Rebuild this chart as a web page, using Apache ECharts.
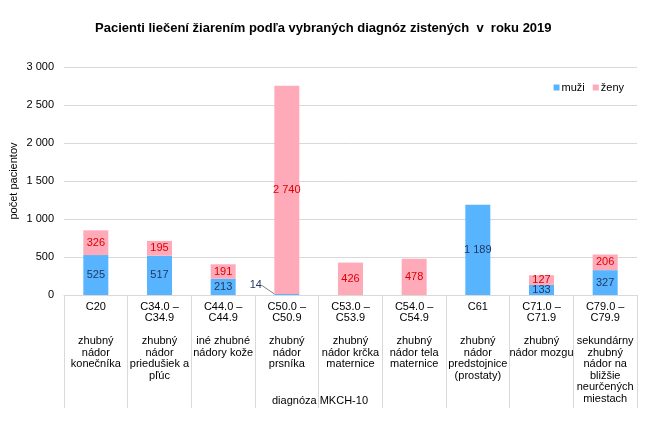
<!DOCTYPE html>
<html>
<head>
<meta charset="utf-8">
<script src="https://cdn.jsdelivr.net/npm/echarts@6/dist/echarts.min.js"></script>
<style>html,body{margin:0;padding:0;background:#fff}#c{width:650px;height:439px}</style>
</head>
<body>
<div id="c"></div>
<script>
const categories = [
  "C20\n\n\nzhubný\nnádor\nkonečníka",
  "C34.0 –\nC34.9\n\nzhubný\nnádor\npriedušiek a\npľúc",
  "C44.0 –\nC44.9\n\niné zhubné\nnádory kože",
  "C50.0 –\nC50.9\n\nzhubný\nnádor\nprsníka",
  "C53.0 –\nC53.9\n\nzhubný\nnádor krčka\nmaternice",
  "C54.0 –\nC54.9\n\nzhubný\nnádor tela\nmaternice",
  "C61\n\n\nzhubný\nnádor\npredstojnice\n(prostaty)",
  "C71.0 –\nC71.9\n\nzhubný\nnádor mozgu",
  "C79.0 –\nC79.9\n\nsekundárny\nzhubný\nnádor na\nbližšie\nneurčených\nmiestach"
];
const muzi = [525, 517, 213, 14, 0, 0, 1189, 133, 327];
const zeny = [326, 195, 191, 2740, 426, 478, 0, 127, 206];
const seriesNames = ["muži", "ženy"];
const yTicks = { min: 0, max: 3000, interval: 500 };

const FONT = "Liberation Sans, Arial, sans-serif";
function fmt(v){ return String(v).replace(/\B(?=(\d{3})+(?!\d))/g, " "); }

const chart = echarts.init(document.getElementById("c"), null, {renderer: "canvas"});
chart.setOption({
  animation: false,
  textStyle: { fontFamily: FONT },
  title: {
    text: "Pacienti liečení žiarením podľa vybraných diagnóz zistených  v  roku 2019",
    left: 90, top: 17,
    textStyle: { fontFamily: FONT, fontSize: 13, fontWeight: "bold", color: "#000" }
  },
  legend: {
    data: seriesNames, right: 21, top: 77,
    icon: "rect", itemWidth: 6, itemHeight: 6, itemGap: 8,
    textStyle: { fontSize: 11, color: "#000", fontFamily: FONT, padding: [0,0,0,-3] }
  },
  grid: { left: 64, right: 13, top: 67, bottom: 144, containLabel: false, outerBoundsMode: "none" },
  xAxis: {
    type: "category", data: categories, boundaryGap: true,
    name: "diagnóza MKCH-10", nameLocation: "middle", nameGap: 100, nameMoveOverlap: false,
    nameTextStyle: { fontSize: 11, color: "#000", fontFamily: FONT, padding: [0, 61, 0, 0] },
    axisLine: { lineStyle: { color: "#D9D9D9" } },
    axisTick: { show: true, length: 113, lineStyle: { color: "#D9D9D9" } },
    axisLabel: { interval: 0, fontSize: 11, lineHeight: 11.5, color: "#000", margin: 6, fontFamily: FONT }
  },
  yAxis: {
    type: "value", min: yTicks.min, max: yTicks.max, interval: yTicks.interval,
    name: "počet pacientov", nameLocation: "middle", nameGap: 45, nameRotate: 90, nameMoveOverlap: false,
    nameTextStyle: { fontSize: 11, color: "#000", fontFamily: FONT },
    axisLine: { show: false }, axisTick: { show: false },
    axisLabel: { fontSize: 11, color: "#000", margin: 10, formatter: v => fmt(v), fontFamily: FONT },
    splitLine: { lineStyle: { color: "#D9D9D9" } }
  },
  series: [
    {
      name: seriesNames[0], type: "bar", stack: "a", data: muzi, barWidth: 25,
      itemStyle: { color: "#59B4FF" },
      label: { show: true, position: "inside", fontSize: 11, color: "#1F3864", fontFamily: FONT,
        formatter: p => p.value ? fmt(p.value) : "" },
      labelLine: { show: true, lineStyle: { color: "#808080", width: 1 } },
      labelLayout: p => (p.dataIndex === 3 ? { dx: -31, dy: -9 } : {})
    },
    {
      name: seriesNames[1], type: "bar", stack: "a", data: zeny, barWidth: 25,
      itemStyle: { color: "#FFAAB9" },
      label: { show: true, position: "inside", fontSize: 11, color: "#E00000", fontFamily: FONT,
        formatter: p => p.value ? fmt(p.value) : "" }
    }
  ]
});
</script>
</body>
</html>
